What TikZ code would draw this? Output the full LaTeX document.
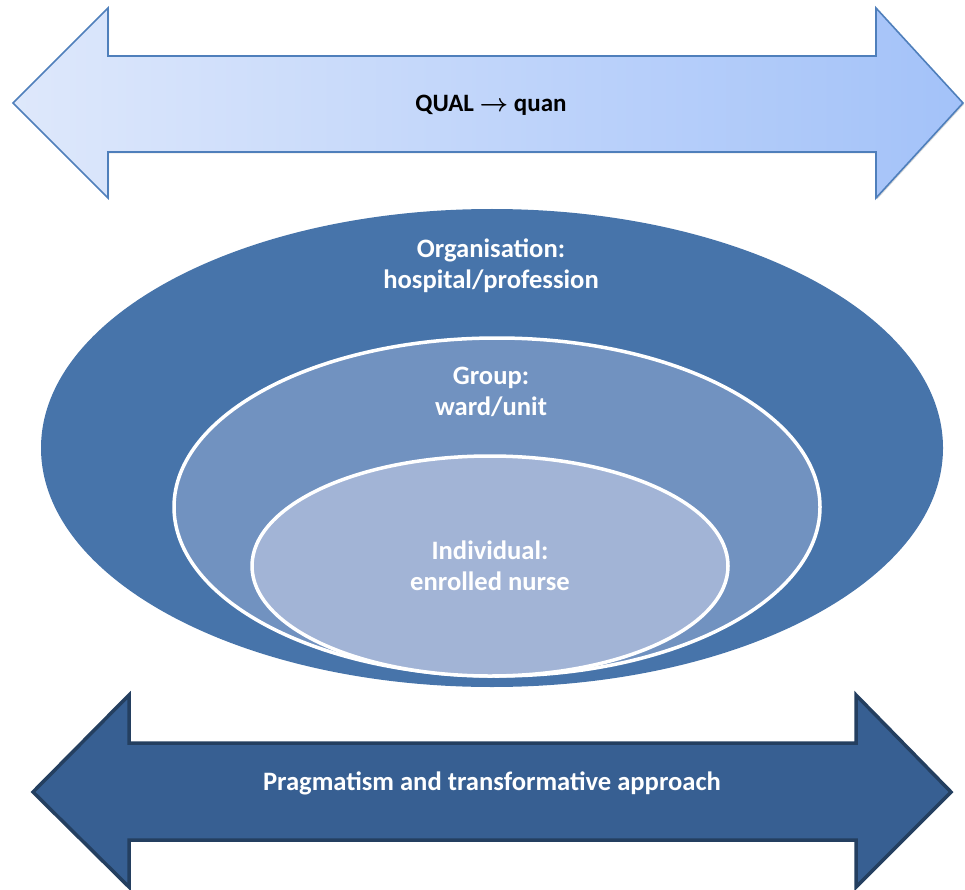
\documentclass[tikz,border=0pt]{standalone}
\usepackage{amsmath}
\usepackage{fontspec}
\setmainfont{Carlito}
\usetikzlibrary{shadows,calc}

\definecolor{topLight}{HTML}{DEE8FB}
\definecolor{topDark}{HTML}{A3C2F9}
\definecolor{topEdge}{HTML}{4F7FBB}
\definecolor{botFill}{HTML}{375F92}
\definecolor{botEdge}{HTML}{243F60}
\definecolor{orgFill}{HTML}{4774AA}
\definecolor{grpFill}{HTML}{7192C0}
\definecolor{indFill}{HTML}{A2B4D6}

\tikzset{
  lighttext/.style={font=\bfseries\fontsize{26.6}{31}\selectfont, text=white, align=center},
  darktext/.style={font=\bfseries\fontsize{25}{30}\selectfont, text=black, align=center},
  ring/.style={draw=white, line width=3.5pt},
}

\begin{document}
\begin{tikzpicture}[x=1pt, y=-1pt]
  \useasboundingbox (0,0) rectangle (965,890);

  % upper double arrow with a light gradient
  \path[draw=topEdge, line width=1.6pt, line join=miter, shading=axis, left color=topLight, right color=topDark,
        drop shadow={shadow xshift=1pt, shadow yshift=-1.5pt, opacity=0.15, fill=black}]
    (13,103) -- (108,8) -- (108,56) -- (876,56) -- (876,8) -- (963,103)
    -- (876,198) -- (876,152) -- (108,152) -- (108,198) -- cycle;
  \node[darktext] (mix) at (491,105) {QUAL $\boldsymbol{\rightarrow}$ quan};

  % nested levels
  \fill[orgFill] (492,448) ellipse [x radius=451, y radius=239];
  \path[fill=grpFill, ring] (497,507) ellipse [x radius=323, y radius=169];
  \path[fill=indFill, ring] (490,566) ellipse [x radius=238, y radius=110];

  \node[lighttext] (org) at (491,266) {Organisation:\\hospital/profession};
  \node[lighttext] (grp) at (491,392) {Group:\\ward/unit};
  \node[lighttext] (ind) at (490,566) {Individual:\\enrolled nurse};

  % lower double arrow
  \path[fill=botFill, draw=botEdge, line width=3.5pt, line join=miter]
    (33,792) -- (129,695) -- (129,743) -- (856,743) -- (856,695) -- (951,792)
    -- (856,887) -- (856,840) -- (129,840) -- (129,887) -- cycle;
  \node[lighttext] (base) at (492,783) {Pragmatism and transformative approach};
\end{tikzpicture}
\end{document}
